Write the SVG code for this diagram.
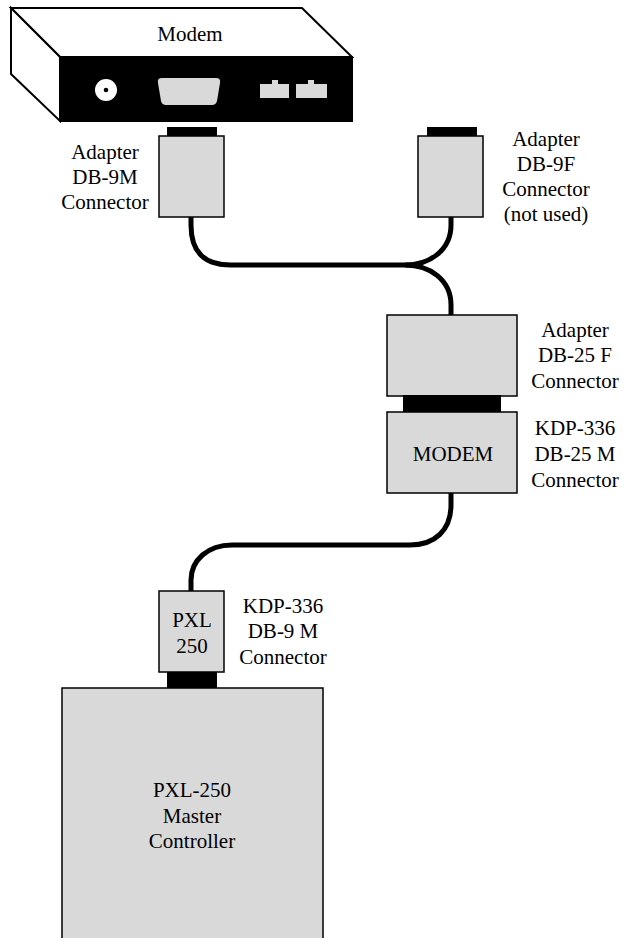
<svg xmlns="http://www.w3.org/2000/svg" width="625" height="938" viewBox="0 0 625 938">
<style>
text{font-family:'Liberation Serif','Times New Roman','DejaVu Serif',Times,serif;font-size:21px;fill:#000;text-anchor:middle}
.box{fill:#d9d9d9;stroke:#000;stroke-width:1.5}
.blk{fill:#000}
.cable{fill:none;stroke:#000;stroke-width:5}
</style>
<rect width="625" height="938" fill="#fff"/>
<g id="modem">
<polygon points="11,8 302,8 352,57 60,57" fill="#fff" stroke="#000" stroke-width="2"/>
<polygon points="11,8 60,57 60,121 11,74" fill="#fff" stroke="#000" stroke-width="2"/>
<rect x="60" y="57" width="292" height="64" class="blk" stroke="#000" stroke-width="2"/>
<circle cx="106" cy="90" r="11" fill="#fff"/>
<circle cx="106" cy="90" r="2.3" fill="#000"/>
<path d="M162,78 H216 Q221,78 220,83 L217,101 Q216,105 212,105 H166 Q162,105 161,101 L158,83 Q157,78 162,78 Z" fill="#d9d9d9"/>
<path d="M260,84 H272 V80 H278 V84 H289 V98 H260 Z" fill="#d9d9d9"/>
<path d="M296,84 H308 V80 H314 V84 H327 V98 H296 Z" fill="#d9d9d9"/>
<text x="190" y="41" font-family="Liberation Serif, serif">Modem</text>
</g>
<g id="connectors">
<path class="cable" d="M191,217 V225 C191,252 204,265 231,265 H405 C430,265 451,250 451,225 V217"/>
<path class="cable" d="M405,265 C430,265 451,280 451,305 V316"/>
<path class="cable" d="M451,493 V505 C451,530 435,545 410,545 H232 C208,545 191,560 191,580 V591"/>
</g>
<g id="adapter-db9m">
<rect x="167" y="127" width="50" height="10" class="blk"/>
<rect x="159" y="136" width="65" height="81" class="box"/>
<text x="105" y="159">Adapter</text>
<text x="105" y="184">DB-9M</text>
<text x="105" y="209">Connector</text>
</g>
<g id="adapter-db9f">
<rect x="427" y="127" width="50" height="10" class="blk"/>
<rect x="418" y="136" width="65" height="81" class="box"/>
<text x="546" y="146">Adapter</text>
<text x="546" y="171">DB-9F</text>
<text x="546" y="196">Connector</text>
<text x="546" y="221">(not used)</text>
</g>
<g id="adapter-db25f">
<rect x="387" y="315" width="130" height="81" class="box"/>
<text x="575" y="337">Adapter</text>
<text x="575" y="362">DB-25 F</text>
<text x="575" y="388">Connector</text>
</g>
<g id="kdp-db25m">
<rect x="403" y="395" width="98" height="18" class="blk"/>
<rect x="387" y="412" width="130" height="81" class="box"/>
<text x="453" y="461">MODEM</text>
<text x="575" y="435">KDP-336</text>
<text x="575" y="461">DB-25 M</text>
<text x="575" y="487">Connector</text>
</g>
<g id="kdp-db9m">
<rect x="159" y="591" width="65" height="81" class="box"/>
<rect x="167" y="672" width="50" height="17" class="blk"/>
<text x="192" y="627">PXL</text>
<text x="192" y="653">250</text>
<text x="283" y="613">KDP-336</text>
<text x="283" y="638">DB-9 M</text>
<text x="283" y="664">Connector</text>
</g>
<g id="master-controller">
<rect x="62" y="688" width="261" height="260" class="box"/>
<text x="192" y="797">PXL-250</text>
<text x="192" y="823">Master</text>
<text x="192" y="848">Controller</text>
</g>
</svg>
